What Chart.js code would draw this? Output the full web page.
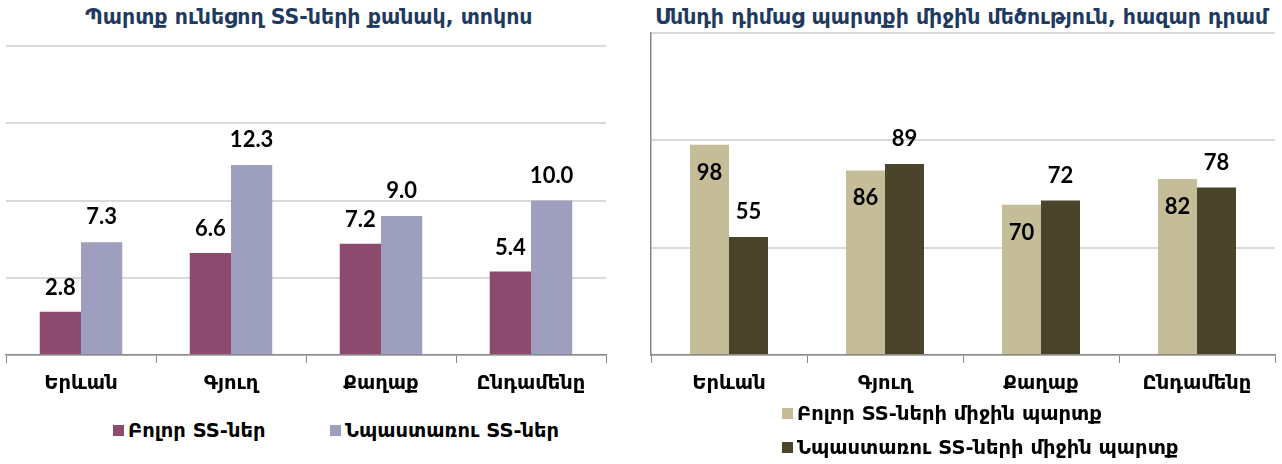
<!DOCTYPE html>
<html>
<head>
<meta charset="utf-8">
<script src="https://cdn.jsdelivr.net/npm/chart.js@4.4.1/dist/chart.umd.min.js"></script>
<style>
  body { margin: 0; background: #fff; width: 1282px; height: 464px; position: relative; overflow: hidden;
         font-family: "DejaVu Sans", sans-serif; }
  .title { position: absolute; top: 5px; font-weight: bold; font-size: 20.5px; color: #1f3a60; white-space: nowrap; }
  .box { position: absolute; }
  .legend { position: absolute; font-weight: bold; font-size: 19.5px; color: #000; white-space: nowrap; }
  .legend span.sq { display: inline-block; width: 11px; height: 11px; margin-right: 4px; vertical-align: 1px; }
</style>
</head>
<body>

<div class="title" style="left:85px;">Պարտք ունեցող SS-ների քանակ, տոկոս</div>
<div class="title" style="left:655px;">Սննդի դիմաց պարտքի միջին մեծություն, հազար դրամ</div>

<div class="box" style="left:0;top:0;width:620px;height:410px;"><canvas id="c1"></canvas></div>
<div class="box" style="left:640px;top:0;width:642px;height:410px;"><canvas id="c2"></canvas></div>

<div class="legend" style="left:113px;top:419px;"><span class="sq" style="background:#8b4a6e"></span>Բոլոր SS-ներ</div>
<div class="legend" style="left:330px;top:419px;"><span class="sq" style="background:#9e9ebe"></span>Նպաստառու SS-ներ</div>
<div class="legend" style="left:782px;top:402px;"><span class="sq" style="background:#c4bd97"></span>Բոլոր SS-ների միջին պարտք</div>
<div class="legend" style="left:782px;top:436px;"><span class="sq" style="background:#4a452a"></span>Նպաստառու SS-ների միջին պարտք</div>

<script>
// categories
const places = ['Երևան', 'Գյուղ', 'Քաղաք', 'Ընդամենը'];

// left chart: share of households with debt, %
const shareAll = [2.8, 6.6, 7.2, 5.4];
const shareBenef = [7.3, 12.3, 9.0, 10.0];

// right chart: average food debt, thousand AMD
const debtAll = [98, 86, 70, 82];
const debtBenef = [55, 89, 72, 78];

const labelFont = 'bold 22px Lato, "Open Sans", sans-serif';
const axisFont = { family: '"DejaVu Sans", sans-serif', size: 19.5, weight: 'bold' };

// draws value labels next to each bar
const valueLabels = {
    id: 'valueLabels',
    afterDatasetsDraw(chart, args, opts) {
        const ctx = chart.ctx;
        ctx.save();
        ctx.font = labelFont;
        ctx.fillStyle = '#000';
        ctx.textAlign = 'center';
        ctx.textBaseline = 'middle';
        chart.data.datasets.forEach((ds, i) => {
            const meta = chart.getDatasetMeta(i);
            const off = opts.offsets[i];
            meta.data.forEach((bar, j) => {
                const v = ds.data[j];
                const txt = opts.decimals ? v.toFixed(1) : String(v);
                ctx.fillText(txt, bar.x, bar.y + off);
            });
        });
        ctx.restore();
    }
};

function makeChart(id, sets, yMax, step, pad, catPct, offsets, decimals, showYBorder) {
    return new Chart(document.getElementById(id), {
        type: 'bar',
        data: {
            labels: places,
            datasets: sets.map(s => ({
                label: s.label,
                data: s.data,
                backgroundColor: s.color,
                borderWidth: 0,
                barPercentage: 1,
                categoryPercentage: catPct
            }))
        },
        options: {
            responsive: true,
            maintainAspectRatio: false,
            animation: false,
            layout: { padding: pad },
            plugins: {
                legend: { display: false },
                tooltip: { enabled: false },
                valueLabels: { offsets: offsets, decimals: decimals }
            },
            scales: {
                x: {
                    grid: { offset: true, drawOnChartArea: false, drawTicks: true, tickLength: 8, color: '#888888' },
                    border: { display: true, color: '#888888', width: 1.5 },
                    ticks: { color: '#000', font: axisFont, padding: 9 },
                    afterFit(scale) { scale.height = 55; }
                },
                y: {
                    min: 0,
                    max: yMax,
                    ticks: { display: false, stepSize: step },
                    grid: { color: '#d9d9d9', lineWidth: 2, drawTicks: false },
                    border: { display: showYBorder, color: '#888888', width: 1.5 },
                    afterFit(scale) { scale.width = 0; }
                }
            }
        },
        plugins: [valueLabels]
    });
}

makeChart('c1', [
    { label: 'Բոլոր SS-ներ', data: shareAll, color: '#8b4a6e' },
    { label: 'Նպաստառու SS-ներ', data: shareBenef, color: '#9e9ebe' }
], 20, 5, { left: 6, right: 14, top: 46, bottom: 0 }, 0.55, [-24, -25], true, false);

makeChart('c2', [
    { label: 'Բոլոր SS-ների միջին պարտք', data: debtAll, color: '#c4bd97' },
    { label: 'Նպաստառու SS-ների միջին պարտք', data: debtBenef, color: '#4a452a' }
], 150, 50, { left: 11, right: 7, top: 33, bottom: 0 }, 0.5, [28, -25], false, true);
</script>
</body>
</html>
